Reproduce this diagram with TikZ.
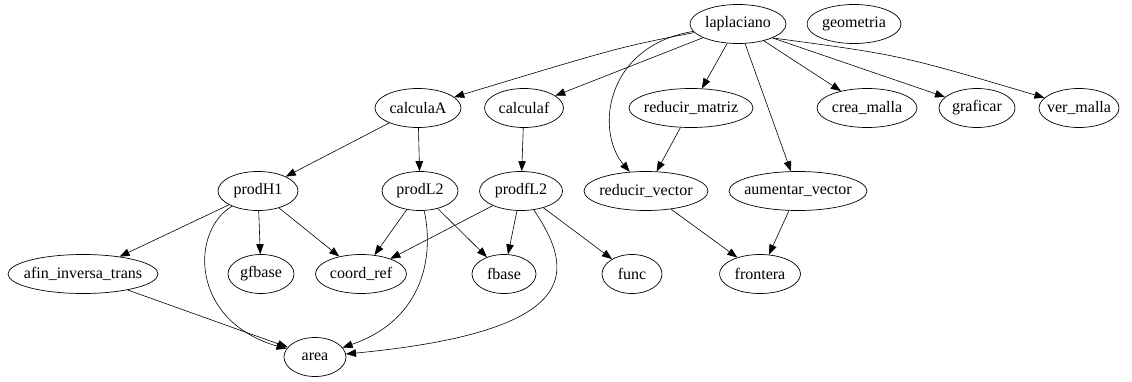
\documentclass[tikz,border=0pt]{standalone}
\usepackage{fontspec}
\setmainfont{Liberation Serif}
\usetikzlibrary{shapes.geometric,arrows.meta}
\begin{document}
\begin{tikzpicture}[x=1pt,y=1pt,
  nd/.style={draw, ellipse, inner sep=0pt, minimum height=39pt, line width=0.7pt,
             font=\fontsize{16}{19}\selectfont},
  ed/.style={-{Triangle[length=10pt,width=7.5pt]}, line width=0.6pt}]
\useasboundingbox (0,0) rectangle (1132,381);
\newcommand\gn[4]{\node[nd, minimum width=#4pt] (#1) at (#2) {\makebox[0pt]{#3}};}
% row 1
\gn{laplaciano}{738,357}{laplaciano}{96}
\gn{geometria}{854,357}{geometria}{94}
% row 2
\gn{calculaA}{418,273}{calculaA}{86}
\gn{calculaf}{524,273}{calculaf}{79}
\gn{reducirmatriz}{691,273}{reducir\_matriz}{124}
\gn{creamalla}{867,273}{crea\_malla}{100}
\gn{graficar}{977,273}{graficar}{76}
\gn{vermalla}{1079,273}{ver\_malla}{80}
% row 3
\gn{prodHone}{258,190}{prodH1}{80}
\gn{prodLtwo}{420,190}{prodL2}{76}
\gn{prodfLtwo}{521,190}{prodfL2}{83}
\gn{reducirvector}{646,190}{reducir\_vector}{124}
\gn{aumentarvector}{798,190}{aumentar\_vector}{138}
% row 4
\gn{afin}{83,107}{afin\_inversa\_trans}{150}
\gn{gfbase}{261,107}{gfbase}{66}
\gn{coordref}{361,107}{coord\_ref}{91}
\gn{fbase}{504,107}{fbase}{64}
\gn{func}{632,107}{func}{60}
\gn{frontera}{760,107}{frontera}{81}
% row 5
\gn{area}{315,24}{area}{62}
% edges
\draw[ed] (laplaciano) .. controls (620,334) .. (calculaA);
\draw[ed] (laplaciano) -- (calculaf);
\draw[ed] (laplaciano) .. controls (605,335) and (595,250) .. (reducirvector);
\draw[ed] (laplaciano) -- (reducirmatriz);
\draw[ed] (laplaciano) -- (aumentarvector);
\draw[ed] (laplaciano) -- (creamalla);
\draw[ed] (laplaciano.-22) -- (graficar);
\draw[ed] (laplaciano.-22) .. controls (900,326) .. (vermalla);
\draw[ed] (calculaA) -- (prodHone);
\draw[ed] (calculaA) -- (prodLtwo);
\draw[ed] (calculaf) -- (prodfLtwo);
\draw[ed] (reducirmatriz) -- (reducirvector);
\draw[ed] (reducirvector) -- (frontera);
\draw[ed] (aumentarvector) -- (frontera);
\draw[ed] (prodHone) -- (afin);
\draw[ed] (prodHone) -- (gfbase);
\draw[ed] (prodHone) -- (coordref);
\draw[ed] (prodHone) .. controls (190,150) and (190,60) .. (area);
\draw[ed] (prodLtwo) -- (coordref);
\draw[ed] (prodLtwo) -- (fbase);
\draw[ed] (prodLtwo) .. controls (435,120) and (420,60) .. (area);
\draw[ed] (prodfLtwo) -- (coordref);
\draw[ed] (prodfLtwo) -- (fbase);
\draw[ed] (prodfLtwo) -- (func);
\draw[ed] (prodfLtwo) .. controls (575,110) and (585,50) .. (area);
\draw[ed] (afin) -- (area);
\end{tikzpicture}
\end{document}
